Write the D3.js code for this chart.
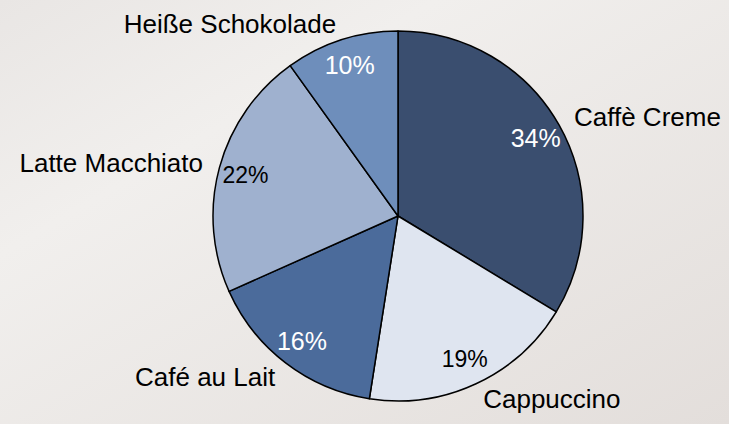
<!DOCTYPE html>
<html>
<head>
<meta charset="utf-8">
<script src="https://cdn.jsdelivr.net/npm/d3@7"></script>
<style>
    body { margin: 0; padding: 0; overflow: hidden; }
    #chart text { font-family: "Liberation Sans", Arial, sans-serif; }
</style>
</head>
<body>
<div id="chart"></div>
<script>
// data
const drinks = ["Caffè Creme", "Cappuccino", "Café au Lait", "Latte Macchiato", "Heiße Schokolade"];
const shares = [34, 19, 16, 22, 10];
const sliceColors = ["#3a4e6f", "#dfe5f0", "#4b6b9b", "#9fb1cf", "#6e8ebb"];
const pctColors = ["#ffffff", "#000000", "#ffffff", "#000000", "#ffffff"];

const width = 729, height = 424;
const cx = 398, cy = 216, radius = 185;

const svg = d3.select("#chart")
    .append("svg")
    .attr("width", width)
    .attr("height", height);

// background
const defs = svg.append("defs");
const bg = defs.append("linearGradient")
    .attr("id", "bg")
    .attr("x1", "0%").attr("y1", "0%")
    .attr("x2", "100%").attr("y2", "100%");
bg.append("stop").attr("offset", "0%").attr("stop-color", "#e9e6e4");
bg.append("stop").attr("offset", "30%").attr("stop-color", "#f1efed");
bg.append("stop").attr("offset", "100%").attr("stop-color", "#e3dedb");

svg.append("rect")
    .attr("width", width)
    .attr("height", height)
    .attr("fill", "url(#bg)");

// pie
const data = drinks.map((d, i) => ({ name: d, value: shares[i], color: sliceColors[i], pctColor: pctColors[i] }));

const pie = d3.pie()
    .value(d => d.value)
    .sort(null);

const arc = d3.arc().innerRadius(0).outerRadius(radius);
const pctArc = d3.arc().innerRadius(158).outerRadius(158);
const labelArc = d3.arc().innerRadius(202).outerRadius(202);

const g = svg.append("g")
    .attr("transform", `translate(${cx},${cy})`);

const arcs = pie(data);

g.selectAll(".slice")
    .data(arcs)
    .enter()
    .append("path")
    .attr("class", "slice")
    .attr("d", arc)
    .attr("fill", d => d.data.color)
    .attr("stroke", "#000")
    .attr("stroke-width", 1.5)
    .attr("stroke-linejoin", "round");

// percent labels inside
g.selectAll(".pct")
    .data(arcs)
    .enter()
    .append("text")
    .attr("class", "pct")
    .attr("transform", d => `translate(${pctArc.centroid(d)})`)
    .attr("text-anchor", "middle")
    .attr("dy", "0.35em")
    .style("font-size", d => d.data.pctColor === "#ffffff" ? "25px" : "23px")
    .attr("fill", d => d.data.pctColor)
    .text(d => d.data.value + "%");

// category labels outside
g.selectAll(".label")
    .data(arcs)
    .enter()
    .append("text")
    .attr("class", "label")
    .attr("transform", d => `translate(${labelArc.centroid(d)})`)
    .attr("text-anchor", d => (d.startAngle + d.endAngle) / 2 < Math.PI ? "start" : "end")
    .attr("dy", "0.35em")
    .style("font-size", "26px")
    .attr("fill", "#000")
    .text(d => d.data.name);
</script>
</body>
</html>
